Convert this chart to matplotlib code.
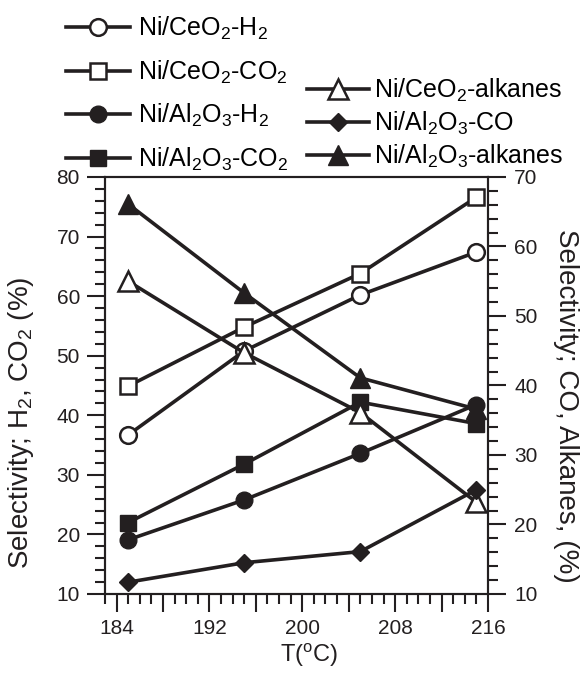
import numpy as np
import matplotlib
matplotlib.use("Agg")
import matplotlib.pyplot as plt
from matplotlib.ticker import MultipleLocator, FixedLocator

plt.rcParams["font.family"] = ["Liberation Sans", "DejaVu Sans"]
plt.rcParams["mathtext.fontset"] = "custom"
plt.rcParams["mathtext.rm"] = "Liberation Sans"
plt.rcParams["mathtext.it"] = "Liberation Sans"

# temperature (C)
T = [185, 195, 205, 215]

# left axis: H2, CO2 selectivity (%)
ceo2_h2 = [36.7, 50.8, 60.2, 67.4]
ceo2_co2 = [44.9, 54.8, 63.8, 76.6]
al2o3_h2 = [19.1, 25.8, 33.6, 41.8]
al2o3_co2 = [22.0, 31.8, 42.2, 38.6]

# right axis: CO, alkanes selectivity (%)
ceo2_alk = [55.0, 44.7, 36.1, 23.2]
al2o3_co = [11.7, 14.5, 16.1, 25.0]
al2o3_alk = [66.1, 53.3, 41.1, 36.6]

xticks = [184, 188, 192, 196, 200, 204, 208, 212, 216]
xticklabels = ["184", "", "192", "", "200", "", "208", "", "216"]

fig = plt.figure(figsize=(5.82, 6.73), dpi=100)
ax = fig.add_axes([0.1804, 0.1174, 0.658, 0.6196])
ax2 = ax.twinx()

lw = 2.6
k = "#231f20"
l1, = ax.plot(T, ceo2_h2, color=k, lw=lw, marker="o", ms=12, mfc="white", mec=k, mew=1.8,
              label=r"Ni/CeO$_2$-H$_2$")
l2, = ax.plot(T, ceo2_co2, color=k, lw=lw, marker="s", ms=12, mfc="white", mec=k, mew=1.8,
              label=r"Ni/CeO$_2$-CO$_2$")
l3, = ax.plot(T, al2o3_h2, color=k, lw=lw, marker="o", ms=12, mfc=k, mec=k,
              label=r"Ni/Al$_2$O$_3$-H$_2$")
l4, = ax.plot(T, al2o3_co2, color=k, lw=lw, marker="s", ms=12, mfc=k, mec=k,
              label=r"Ni/Al$_2$O$_3$-CO$_2$")
l5, = ax2.plot(T, ceo2_alk, color=k, lw=lw, marker="^", ms=15, mfc="white", mec=k, mew=1.8,
               label=r"Ni/CeO$_2$-alkanes")
l6, = ax2.plot(T, al2o3_co, color=k, lw=lw, marker="D", ms=9.5, mfc=k, mec=k,
               label=r"Ni/Al$_2$O$_3$-CO")
l7, = ax2.plot(T, al2o3_alk, color=k, lw=lw, marker="^", ms=15, mfc=k, mec=k,
               label=r"Ni/Al$_2$O$_3$-alkanes")

ax.set_xlim(183, 216)
ax.set_ylim(10, 80)
ax2.set_ylim(10, 70)

ax.xaxis.set_major_locator(FixedLocator(xticks))
ax.set_xticklabels(xticklabels)
ax.xaxis.set_minor_locator(MultipleLocator(1))
ax.yaxis.set_major_locator(MultipleLocator(10))
ax.yaxis.set_minor_locator(MultipleLocator(2))
ax2.yaxis.set_major_locator(MultipleLocator(10))
ax2.yaxis.set_minor_locator(MultipleLocator(2))

for a in (ax, ax2):
    for s in a.spines.values():
        s.set_linewidth(1.5)
        s.set_color(k)
ax.tick_params(axis="both", which="major", direction="out", length=13, width=1.5,
               labelsize=15, pad=5, colors=k)
ax.tick_params(axis="both", which="minor", direction="out", length=7, width=1.5, colors=k)
ax2.tick_params(axis="y", which="major", direction="out", length=13, width=1.5,
                labelsize=15, pad=6, colors=k)
ax2.tick_params(axis="y", which="minor", direction="out", length=7, width=1.5, colors=k)

# axis titles
fig.text(309 / 582, 1 - 655 / 673, r"T($\mathregular{^o}$C)", fontsize=17,
         ha="center", va="center", color=k)
fig.text(21 / 582, 1 - 423 / 673, r"Selectivity; H$_2$, CO$_2$ (%)", fontsize=20,
         rotation=90, ha="center", va="center", color=k)
fig.text(566 / 582, 1 - 406 / 673, "Selectivity; CO, Alkanes, (%)", fontsize=20,
         rotation=270, ha="center", va="center", color=k)

leg1 = fig.legend(handles=[l1, l2, l3, l4], loc="upper left", bbox_to_anchor=(0.113, 0.978),
                  frameon=False, fontsize=18, handlelength=2.56, handletextpad=0.32,
                  labelspacing=0.66, borderpad=0, borderaxespad=0)
leg2 = fig.legend(handles=[l5, l6, l7], loc="upper left", bbox_to_anchor=(0.528, 0.886),
                  frameon=False, fontsize=18, handlelength=2.45, handletextpad=0.22,
                  labelspacing=0.24, borderpad=0, borderaxespad=0)

fig.savefig("out.png", dpi=100)
